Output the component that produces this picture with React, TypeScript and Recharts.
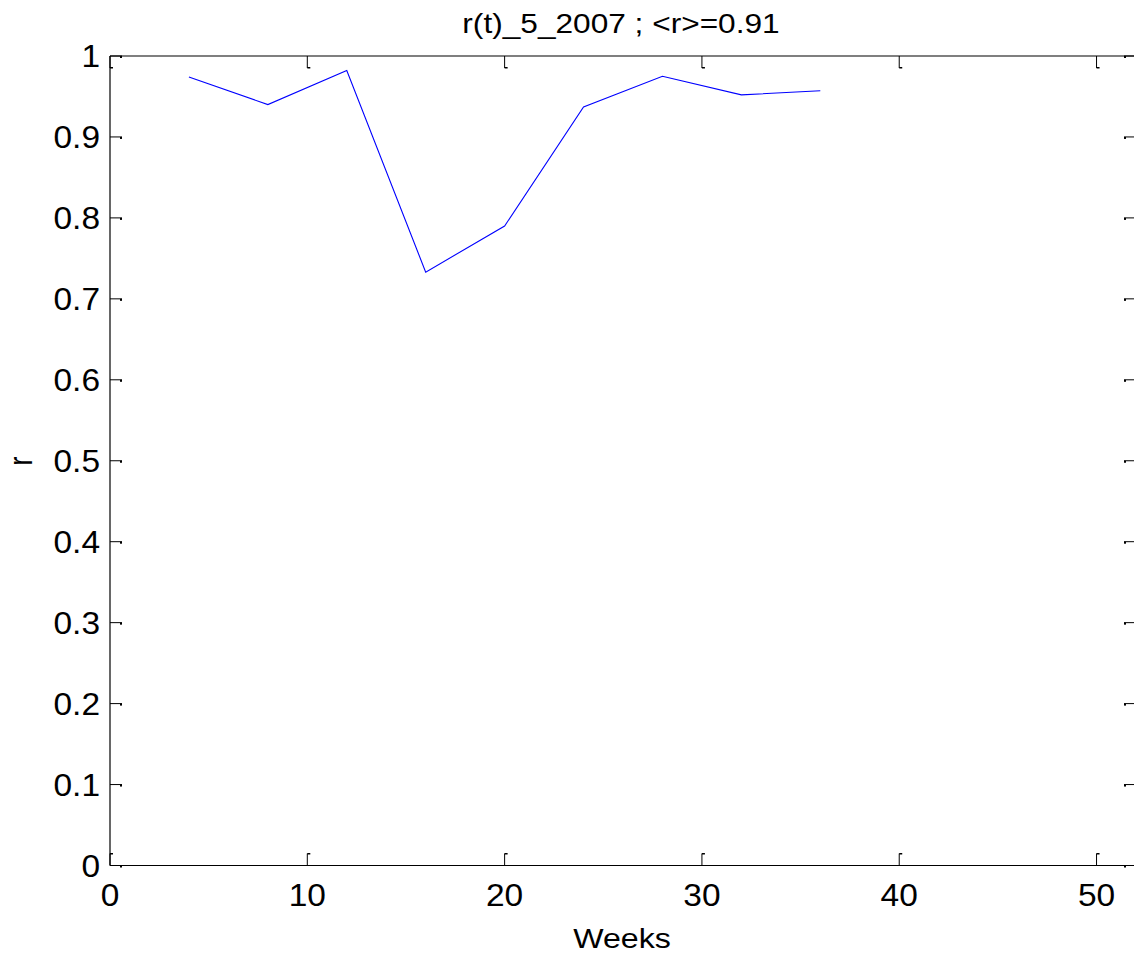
import React from 'react';
import { LineChart, Line, XAxis, YAxis } from 'recharts';

// weekly r values
const weeks = [4, 8, 12, 16, 20, 24, 28, 32, 36];
const rValues = [0.974, 0.94, 0.982, 0.733, 0.79, 0.937, 0.975, 0.952, 0.957];
const xTicks = [0, 10, 20, 30, 40, 50];
const yTicks = [0, 0.1, 0.2, 0.3, 0.4, 0.5, 0.6, 0.7, 0.8, 0.9, 1];
const xDomain = [0, 52];
const yDomain = [0, 1];
const title = 'r(t)_5_2007 ; <r>=0.91';
const xLabel = 'Weeks';
const yLabel = 'r';

const data = weeks.map((w, i) => ({ week: w, r: rValues[i] }));

const FONT = '"Liberation Sans", Arial, Helvetica, sans-serif';
const TICK = 12;
const SX = 1.08; // the original figure is stretched horizontally

const BottomTick = ({ x, y, payload }: any) => (
  <g>
    <line x1={x} y1={y} x2={x} y2={y - TICK} stroke="#000" strokeWidth={1} />
    <rect x={x} y={y - TICK - 0.5} width={3} height={1.5} fill="#000" />
    <g transform={`translate(${x},${y + 40}) scale(${SX},1)`}>
      <text textAnchor="middle" fontSize={31} fontFamily={FONT} fill="#000">
        {payload.value}
      </text>
    </g>
  </g>
);

const TopTick = ({ x, y }: any) => (
  <g>
    <line x1={x} y1={y} x2={x} y2={y + TICK} stroke="#000" strokeWidth={1} />
    <rect x={x} y={y + TICK - 1} width={3} height={1.5} fill="#000" />
  </g>
);

const LeftTick = ({ x, y, payload }: any) => (
  <g>
    <line x1={x} y1={y} x2={x + TICK} y2={y} stroke="#000" strokeWidth={1} />
    <rect x={x + TICK - 2} y={y} width={2} height={2} fill="#000" />
    <g transform={`translate(${x - 10},${y}) scale(${SX},1)`}>
      <text textAnchor="end" dy="0.36em" fontSize={31} fontFamily={FONT} fill="#000">
        {String(payload.value)}
      </text>
    </g>
  </g>
);

const RightTick = ({ x, y }: any) => (
  <g>
    <line x1={x} y1={y} x2={x - TICK} y2={y} stroke="#000" strokeWidth={1} />
    <rect x={x - TICK} y={y} width={2} height={2} fill="#000" />
  </g>
);

export default function App() {
  return (
    <div
      style={{
        position: 'absolute',
        left: 0,
        top: 0,
        width: 1134,
        height: 953,
        overflow: 'hidden',
        background: '#fff',
      }}
    >
      <LineChart width={1140} height={953} data={data} margin={{ top: 0, right: 0, bottom: 0, left: 0 }}>
        <XAxis
          xAxisId="bottom"
          dataKey="week"
          type="number"
          domain={xDomain}
          ticks={xTicks}
          allowDataOverflow
          height={87.5}
          tickSize={0}
          tickMargin={0}
          tickLine={false}
          axisLine={{ stroke: '#000', strokeWidth: 1.2 }}
          tick={<BottomTick />}
        />
        <XAxis
          xAxisId="top"
          orientation="top"
          dataKey="week"
          type="number"
          domain={xDomain}
          ticks={xTicks}
          allowDataOverflow
          height={56}
          tickSize={0}
          tickMargin={0}
          tickLine={false}
          axisLine={{ stroke: '#000', strokeWidth: 1.2 }}
          tick={<TopTick />}
        />
        <YAxis
          yAxisId="left"
          type="number"
          domain={yDomain}
          ticks={yTicks}
          allowDataOverflow
          width={110}
          tickSize={0}
          tickMargin={0}
          tickLine={false}
          axisLine={{ stroke: '#000', strokeWidth: 1.2 }}
          tick={<LeftTick />}
        />
        <YAxis
          yAxisId="right"
          orientation="right"
          type="number"
          domain={yDomain}
          ticks={yTicks}
          allowDataOverflow
          width={4}
          tickSize={0}
          tickMargin={0}
          tickLine={false}
          axisLine={{ stroke: '#000', strokeWidth: 1.2 }}
          tick={<RightTick />}
        />
        <Line
          xAxisId="bottom"
          yAxisId="left"
          type="linear"
          dataKey="r"
          stroke="#0000ff"
          strokeWidth={1.1}
          dot={false}
          activeDot={false}
          isAnimationActive={false}
        />
      </LineChart>
      <svg
        width={1134}
        height={953}
        style={{ position: 'absolute', left: 0, top: 0, pointerEvents: 'none' }}
      >
        <g transform="translate(621,33) scale(1.13,1)">
          <text textAnchor="middle" fontSize={28} fontFamily={FONT} fill="#000">
            {title}
          </text>
        </g>
        <g transform="translate(622,948) scale(1.19,1)">
          <text textAnchor="middle" fontSize={27} fontFamily={FONT} fill="#000">
            {xLabel}
          </text>
        </g>
        <g transform="translate(32,461) scale(1.2,1) rotate(-90)">
          <text textAnchor="middle" fontSize={28} fontFamily={FONT} fill="#000">
            {yLabel}
          </text>
        </g>
      </svg>
    </div>
  );
}
